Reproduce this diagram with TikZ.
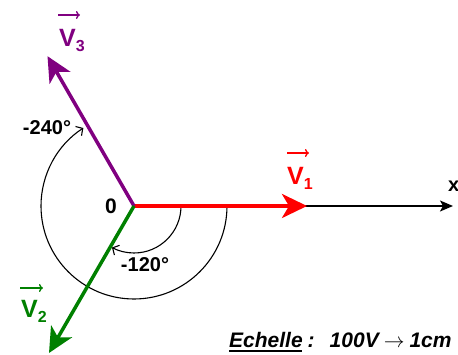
\documentclass[tikz,border=0pt]{standalone}
\usepackage{fontspec}
\setmainfont{Liberation Sans}
\usetikzlibrary{arrows.meta}
\definecolor{vpurple}{RGB}{128,0,128}
\definecolor{vred}{RGB}{255,0,0}
\definecolor{vgreen}{RGB}{0,128,0}
\begin{document}
\begin{tikzpicture}[x=1pt,y=1pt,
  vec/.style={line width=3.5pt,-{Stealth[length=25pt,width=24pt,inset=7pt]}},
  axisline/.style={line width=1.3pt,-{Stealth[length=13pt,width=11pt,inset=3pt]}},
  anglearc/.style={line width=1.1pt,-{Straight Barb[length=5pt,width=11pt]}},
  overarrow/.style={line width=1.3pt,-{To[length=4pt,width=8pt]}},
  vlbl/.style={anchor=base west,inner sep=0pt,font=\bfseries\fontsize{25}{28}\selectfont},
  anglbl/.style={inner sep=0pt,font=\bfseries\fontsize{20}{22}\selectfont},
]
\useasboundingbox (0,0) rectangle (458,355);
\coordinate (O) at (134,149);
\coordinate (v1) at (307,149);
\coordinate (xend) at (453,149);
\coordinate (v3) at (47.5,298.8);
\coordinate (v2) at (49,2);
\coordinate (s0) at (181,149);
\coordinate (b0) at (227,149);
% axis
\draw[axisline] (O) -- (xend);
% arcs
\draw[anglearc] (s0) arc[start angle=0,end angle=-118,radius=47];
\draw[anglearc] (b0) arc[start angle=0,end angle=-237,radius=93];
% vectors
\draw[vec,vred] (O) -- (v1);
\draw[vec,vpurple] (O) -- (v3);
\draw[vec,vgreen] (O) -- (v2);
% labels
\node[vlbl,text=vpurple] (l3) at (59,308) {V\raisebox{-5pt}{\fontsize{16}{16}\selectfont 3}};
\draw[overarrow,vpurple] ([shift={(-1,32)}]l3.base west) -- ++(22,0);
\node[vlbl,text=vred] (l1) at (287,170) {V\raisebox{-5pt}{\fontsize{16}{16}\selectfont 1}};
\draw[overarrow,vred] ([shift={(0,32)}]l1.base west) -- ++(22,0);
\node[vlbl,text=vgreen] (l2) at (21,37) {V\raisebox{-5pt}{\fontsize{16}{16}\selectfont 2}};
\draw[overarrow,vgreen] ([shift={(-1,30)}]l2.base west) -- ++(23,0);
\node[anglbl] (a240) at (47,227) {-240°};
\node[anglbl] (a120) at (145,90) {-120°};
\node[anglbl,font=\bfseries\fontsize{21}{22}\selectfont] (zero) at (111,149) {0};
\node[anglbl,anchor=base west] (xl) at (448,163) {x};
\node[anchor=base west,inner sep=0pt,font=\bfseries\itshape\fontsize{21}{24}\selectfont] (ech) at (229,7)
  {\rlap{\rule[-4.5pt]{73pt}{2pt}}Echelle\hspace{5pt}:\hspace{15pt}100V\hspace{5pt}$\rightarrow$\hspace{5pt}1cm};
\end{tikzpicture}
\end{document}
